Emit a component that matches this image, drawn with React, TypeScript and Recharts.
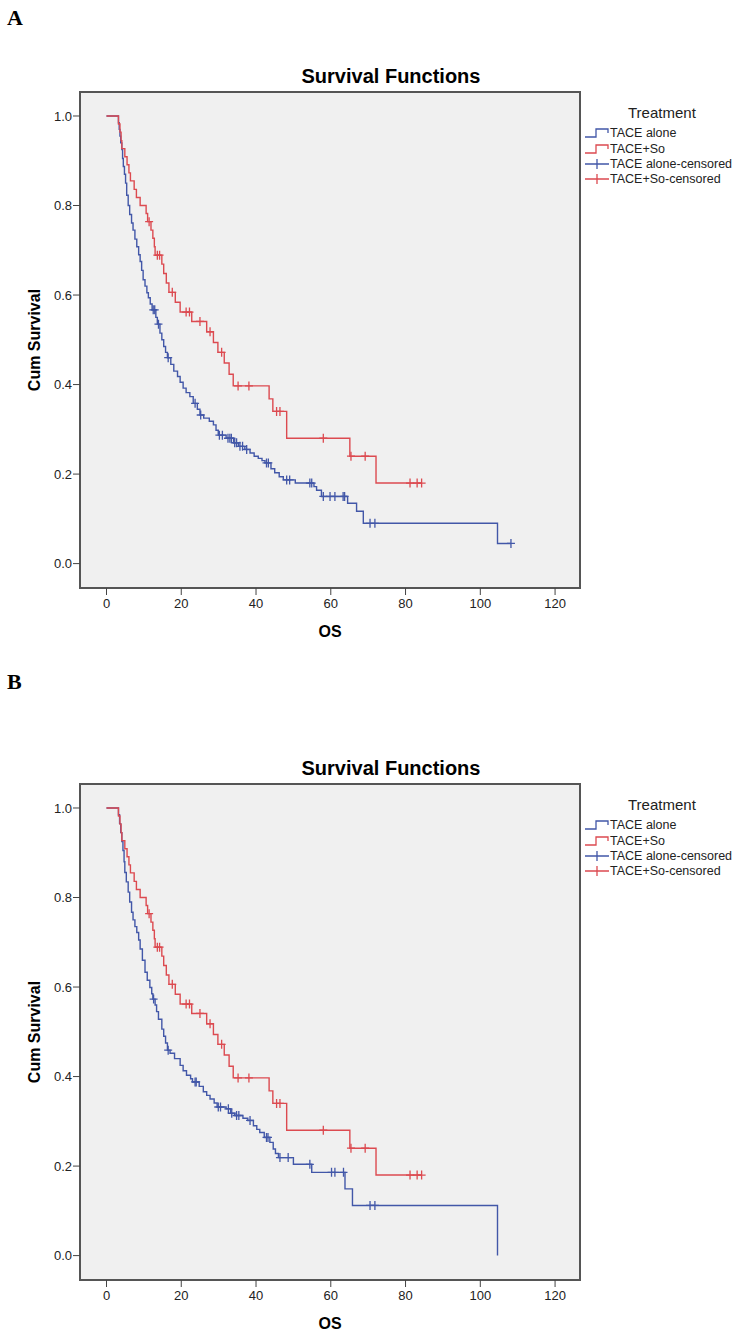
import { CartesianGrid, ComposedChart, Line, ReferenceArea, Scatter, XAxis, YAxis } from "recharts";

const X_TICKS = [0, 20, 40, 60, 80, 100, 120];
const Y_TICKS = [0, 0.2, 0.4, 0.6, 0.8, 1];

// TACE+So, same curve in panels A and B
const soTimes = [0, 3.2, 3.6, 3.9, 4.1, 4.9, 5.5, 6.0, 6.4, 7.4, 8.0, 9.0, 10.6, 11.0, 11.9, 12.4, 12.8, 13.0, 14.8, 15.3, 16.0, 16.7, 18.4, 19.7, 22.8, 26.8, 28.6, 29.8, 31.5, 32.8, 33.9, 43.5, 44.5, 48.2, 65.1, 72.1];
const soSurv = [1, 0.982, 0.964, 0.945, 0.927, 0.909, 0.891, 0.873, 0.855, 0.836, 0.818, 0.8, 0.782, 0.764, 0.745, 0.727, 0.708, 0.689, 0.669, 0.648, 0.627, 0.606, 0.584, 0.562, 0.541, 0.518, 0.494, 0.472, 0.448, 0.423, 0.397, 0.368, 0.34, 0.28, 0.24, 0.18];
const soCensored = [11.4, 13.6, 14.2, 17.6, 21.3, 22.2, 25.0, 27.7, 30.8, 35.2, 38.1, 45.5, 46.4, 58.0, 65.4, 69.2, 81.2, 83.1, 84.3];
const soEnd = 84.3;

// TACE alone, panel A
const aloneATimes = [0, 3.2, 3.4, 3.6, 3.8, 4.1, 4.3, 4.5, 4.8, 5.1, 5.4, 5.8, 6.2, 6.7, 7.1, 7.6, 8.1, 8.6, 9.0, 9.4, 9.8, 10.3, 10.8, 11.2, 11.7, 12.2, 13.2, 13.6, 14.3, 14.8, 15.3, 15.8, 16.3, 17.2, 18.0, 19.0, 19.7, 20.5, 21.3, 22.3, 23.2, 24.3, 25.0, 26.0, 27.5, 28.6, 29.3, 29.9, 32.0, 34.0, 35.3, 37.0, 38.4, 39.5, 40.6, 41.6, 42.4, 44.0, 45.0, 46.2, 47.3, 50.5, 55.5, 56.2, 57.5, 64.5, 66.9, 68.7, 104.6];
const aloneASurv = [1, 0.985, 0.97, 0.955, 0.94, 0.925, 0.905, 0.887, 0.87, 0.85, 0.823, 0.8, 0.78, 0.761, 0.745, 0.725, 0.708, 0.69, 0.675, 0.655, 0.634, 0.62, 0.605, 0.594, 0.58, 0.567, 0.55, 0.535, 0.515, 0.5, 0.485, 0.472, 0.46, 0.445, 0.43, 0.418, 0.405, 0.392, 0.382, 0.373, 0.358, 0.345, 0.332, 0.325, 0.318, 0.31, 0.298, 0.287, 0.28, 0.27, 0.262, 0.255, 0.247, 0.24, 0.235, 0.23, 0.225, 0.212, 0.203, 0.194, 0.187, 0.18, 0.172, 0.164, 0.15, 0.135, 0.117, 0.09, 0.045];
const aloneACensored = [12.5, 12.9, 13.9, 16.5, 23.7, 25.2, 30.2, 31.0, 32.5, 33.0, 33.4, 34.3, 34.8, 35.7, 36.4, 37.5, 42.8, 43.3, 48.2, 49.0, 54.4, 54.9, 58.0, 59.8, 61.1, 63.3, 63.7, 70.5, 71.8, 108.2];
const aloneAEnd = 108.2;

// TACE alone, panel B
const aloneBTimes = [0, 3.2, 3.5, 3.8, 4.1, 4.4, 4.7, 4.9, 5.3, 5.8, 6.2, 6.7, 7.1, 7.6, 8.1, 8.6, 9.0, 9.6, 10.3, 10.9, 11.6, 12.1, 12.4, 13.0, 13.4, 13.9, 14.8, 15.3, 15.8, 16.3, 17.0, 18.2, 19.7, 20.5, 21.4, 22.5, 23.0, 24.8, 25.9, 26.8, 27.7, 28.8, 29.6, 32.0, 33.2, 34.3, 36.5, 37.8, 39.3, 40.2, 41.0, 42.2, 43.7, 44.6, 45.2, 46.0, 50.0, 54.9, 63.8, 65.8, 104.6];
const aloneBSurv = [1, 0.985, 0.965, 0.945, 0.925, 0.905, 0.88, 0.856, 0.835, 0.812, 0.79, 0.767, 0.75, 0.735, 0.722, 0.705, 0.685, 0.66, 0.633, 0.615, 0.599, 0.585, 0.573, 0.56, 0.545, 0.528, 0.506, 0.49, 0.475, 0.459, 0.452, 0.44, 0.425, 0.413, 0.403, 0.395, 0.388, 0.378, 0.366, 0.358, 0.35, 0.341, 0.332, 0.328, 0.318, 0.313, 0.307, 0.302, 0.29, 0.282, 0.275, 0.264, 0.253, 0.238, 0.228, 0.219, 0.204, 0.186, 0.149, 0.112, 0];
const aloneBCensored = [12.6, 16.5, 23.7, 24.0, 29.9, 30.5, 32.6, 33.5, 34.8, 35.4, 38.4, 42.8, 43.2, 46.4, 48.6, 54.4, 60.2, 61.1, 63.4, 70.5, 71.8];
const aloneBEnd = 104.6;

const BLUE = "#4257a8";
const RED = "#dc4a50";
const FONT = "'Liberation Sans', Arial, sans-serif";
const X_DOMAIN: [number, number] = [-7.09, 126.67];
const Y_DOMAIN: [number, number] = [-0.0545, 1.0536];

function steps(times: number[], surv: number[], end: number) {
  const pts = times.map((t, i) => ({ t, s: surv[i] }));
  if (end > times[times.length - 1]) pts.push({ t: end, s: surv[surv.length - 1] });
  return pts;
}

function censored(times: number[], surv: number[], marks: number[]) {
  return marks.map((c) => {
    let s = surv[0];
    times.forEach((t, i) => {
      if (t <= c) s = surv[i];
    });
    return { t: c, s };
  });
}

const plus = (color: string) => (props: any) => {
  const { cx, cy } = props;
  return (
    <path
      d={`M${cx - 4},${cy}H${cx + 4}M${cx},${cy - 4.5}V${cy + 4.5}`}
      stroke={color}
      strokeWidth={1.3}
      fill="none"
    />
  );
};

function LegendRow({ y, color, text, step }: { y: number; color: string; text: string; step: boolean }) {
  return (
    <div style={{ position: "absolute", left: 585, top: y - 8, height: 16, display: "flex", alignItems: "center" }}>
      <svg width={25} height={16}>
        {step ? (
          <path d="M0,12H11V4H23V8" stroke={color} strokeWidth={1.3} fill="none" />
        ) : (
          <path d="M0,8H24M12,3V13" stroke={color} strokeWidth={1.3} fill="none" />
        )}
      </svg>
      <span style={{ fontFamily: FONT, fontSize: 12.5, color: "#222", whiteSpace: "nowrap" }}>{text}</span>
    </div>
  );
}

function Panel({ top, letter, letterTop, times, surv, cens, end }: any) {
  const soLine = steps(soTimes, soSurv, soEnd);
  const soMarks = censored(soTimes, soSurv, soCensored);
  const aloneLine = steps(times, surv, end);
  const aloneMarks = censored(times, surv, cens);
  return (
    <>
      <div style={{ position: "absolute", left: 7, top: letterTop, fontFamily: "'Liberation Serif', serif", fontWeight: "bold", fontSize: 22 }}>
        {letter}
      </div>
      <div style={{ position: "absolute", left: 0, top, width: 745, height: 660 }}>
        <div style={{ position: "absolute", left: 291, top: 64, width: 200, textAlign: "center", fontFamily: FONT, fontWeight: "bold", fontSize: 20, lineHeight: "24px" }}>
          Survival Functions
        </div>
        <ComposedChart width={745} height={660} margin={{ top: 92, right: 165, bottom: 42, left: 20 }}>
          <CartesianGrid fill="#f0f0f0" horizontal={false} vertical={false} />
          <XAxis
            type="number"
            dataKey="t"
            domain={X_DOMAIN}
            ticks={X_TICKS}
            allowDataOverflow
            height={30}
            axisLine={false}
            tickSize={7}
            tickMargin={4}
            tickLine={{ stroke: "#444" }}
            tick={{ fontSize: 13, fill: "#222", fontFamily: FONT }}
          />
          <YAxis
            type="number"
            dataKey="s"
            domain={Y_DOMAIN}
            ticks={Y_TICKS}
            allowDataOverflow
            width={60}
            axisLine={false}
            tickSize={7}
            tickMargin={1}
            tickLine={{ stroke: "#444" }}
            tick={{ fontSize: 13, fill: "#222", fontFamily: FONT }}
            tickFormatter={(v: number) => v.toFixed(1)}
          />
          <Line data={aloneLine} dataKey="s" type="stepAfter" stroke={BLUE} strokeWidth={1.4} dot={false} activeDot={false} isAnimationActive={false} />
          <Line data={soLine} dataKey="s" type="stepAfter" stroke={RED} strokeWidth={1.4} dot={false} activeDot={false} isAnimationActive={false} />
          <Scatter data={aloneMarks} dataKey="s" shape={plus(BLUE)} isAnimationActive={false} />
          <Scatter data={soMarks} dataKey="s" shape={plus(RED)} isAnimationActive={false} />
          <ReferenceArea x1={X_DOMAIN[0]} x2={X_DOMAIN[1]} y1={Y_DOMAIN[0]} y2={Y_DOMAIN[1]} fill="none" stroke="#555" strokeWidth={2} />
        </ComposedChart>
        <div style={{ position: "absolute", left: 35, top: 340, width: 0, height: 0 }}>
          <div style={{ position: "absolute", left: -80, top: -10, width: 160, textAlign: "center", transform: "rotate(-90deg)", fontFamily: FONT, fontWeight: "bold", fontSize: 16, lineHeight: "20px" }}>
            Cum Survival
          </div>
        </div>
        <div style={{ position: "absolute", left: 280, top: 622, width: 100, textAlign: "center", fontFamily: FONT, fontWeight: "bold", fontSize: 16, lineHeight: "20px" }}>
          OS
        </div>
        <div style={{ position: "absolute", left: 628, top: 104, fontFamily: FONT, fontSize: 15, color: "#222" }}>Treatment</div>
        <LegendRow y={133} color={BLUE} text="TACE alone" step />
        <LegendRow y={148.5} color={RED} text="TACE+So" step />
        <LegendRow y={163.5} color={BLUE} text="TACE alone-censored" step={false} />
        <LegendRow y={179} color={RED} text="TACE+So-censored" step={false} />
      </div>
    </>
  );
}

export default function App() {
  return (
    <div style={{ position: "relative", width: 745, height: 1338, background: "#fff", overflow: "hidden" }}>
      <style>{"body{margin:0}"}</style>
      <Panel top={0} letter="A" letterTop={5} times={aloneATimes} surv={aloneASurv} cens={aloneACensored} end={aloneAEnd} />
      <Panel top={692} letter="B" letterTop={669} times={aloneBTimes} surv={aloneBSurv} cens={aloneBCensored} end={aloneBEnd} />
    </div>
  );
}
